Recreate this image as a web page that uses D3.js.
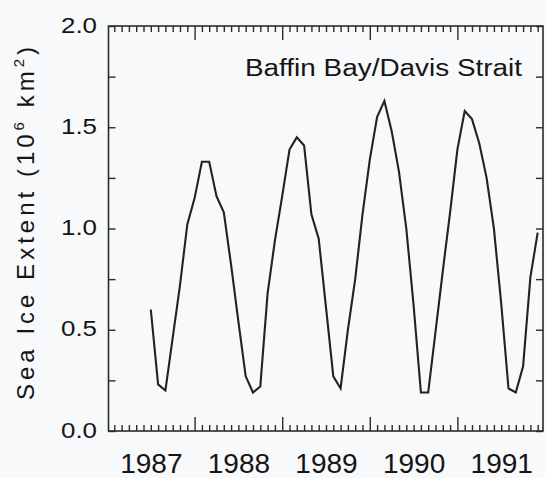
<!DOCTYPE html>
<html>
<head>
<meta charset="utf-8">
<script src="https://cdn.jsdelivr.net/npm/d3@7"></script>
<style>
  html, body { margin: 0; padding: 0; background: #f7f9fb; }
  svg { display: block; }
  text { font-family: "Liberation Sans", Arial, Helvetica, sans-serif; fill: #151515; }
</style>
</head>
<body>
<script>
// Monthly sea ice extent, 10^6 km^2
const extent1987 = [0.60, 0.23, 0.20, 0.46, 0.72, 1.02]; // Jul - Dec
const extent1988 = [1.15, 1.33, 1.33, 1.16, 1.08, 0.82, 0.54, 0.27, 0.19, 0.22, 0.68, 0.94];
const extent1989 = [1.16, 1.39, 1.45, 1.41, 1.07, 0.95, 0.61, 0.27, 0.21, 0.50, 0.75, 1.07];
const extent1990 = [1.34, 1.55, 1.63, 1.48, 1.28, 1.00, 0.62, 0.19, 0.19, 0.49, 0.79, 1.08];
const extent1991 = [1.39, 1.58, 1.54, 1.42, 1.25, 1.00, 0.63, 0.21, 0.19, 0.32, 0.76, 0.98];
const years = [1987, 1988, 1989, 1990, 1991];
const firstMonth1987 = 6; // July (0-based)
const yTickLabels = ['0.0', '0.5', '1.0', '1.5', '2.0'];
const title = 'Baffin Bay/Davis Strait';

const w = 545;
const h = 478;
const frame = { left: 108.5, right: 543, top: 26, bottom: 431 };

// build dataset: [decimal year, value]
const byYear = [extent1987, extent1988, extent1989, extent1990, extent1991];
const dataset = [];
byYear.forEach((vals, i) => {
  const offset = i === 0 ? firstMonth1987 : 0;
  vals.forEach((v, j) => dataset.push([years[i] + (offset + j) / 12, v]));
});

const xScale = d3.scaleLinear().domain([1987, 1992]).range([107, 545]);
const yScale = d3.scaleLinear().domain([0, 2]).range([frame.bottom, frame.top]);

const svg = d3.select('body').append('svg').attr('width', w).attr('height', h);

svg.append('rect')
  .attr('width', w).attr('height', h).attr('fill', '#f7f9fb');

// month and year tick positions inside the frame
const monthTicks = d3.range(1, 60).map(k => 1987 + k / 12).filter(t => Math.abs(t - Math.round(t)) > 1e-6);
const yearTicks = years.slice(1);
const yTicks = d3.range(0, 2.001, 0.25);

function styleAxis(g) {
  g.select('.domain').remove();
  g.selectAll('line').attr('stroke', '#2b2b2b').attr('stroke-width', 1.4);
}

// bottom axis
svg.append('g').attr('transform', 'translate(0,' + frame.bottom + ')')
  .call(d3.axisBottom(xScale).tickValues(monthTicks).tickSize(-6).tickFormat(''))
  .call(styleAxis);
svg.append('g').attr('transform', 'translate(0,' + frame.bottom + ')')
  .call(d3.axisBottom(xScale).tickValues(yearTicks).tickSize(-14).tickFormat(''))
  .call(styleAxis);
const xLabels = svg.append('g').attr('transform', 'translate(0,' + frame.bottom + ')')
  .call(d3.axisBottom(xScale).tickValues(years.map(y => y + 0.5)).tickSize(0)
    .tickFormat((d, i) => String(years[i])))
  .call(styleAxis);
xLabels.selectAll('text')
  .attr('y', 42).attr('dy', 0)
  .style('font-size', '28px').attr('fill', '#151515');

// top axis
svg.append('g').attr('transform', 'translate(0,' + frame.top + ')')
  .call(d3.axisTop(xScale).tickValues(monthTicks).tickSize(-6).tickFormat(''))
  .call(styleAxis);
svg.append('g').attr('transform', 'translate(0,' + frame.top + ')')
  .call(d3.axisTop(xScale).tickValues(yearTicks).tickSize(-14).tickFormat(''))
  .call(styleAxis);

// left axis
const yAxisG = svg.append('g').attr('transform', 'translate(' + frame.left + ',0)')
  .call(d3.axisLeft(yScale).tickValues(yTicks).tickSize(-7)
    .tickFormat(d => (Math.abs(d * 2 - Math.round(d * 2)) < 1e-6 ? yTickLabels[Math.round(d * 2)] : '')))
  .call(styleAxis);
yAxisG.selectAll('text')
  .attr('x', -11.5).attr('dy', '0.28em')
  .style('font-size', '22px').attr('fill', '#151515')
  .filter(function() { return this.textContent !== ''; })
  .attr('textLength', 36).attr('lengthAdjust', 'spacingAndGlyphs');

// right axis
svg.append('g').attr('transform', 'translate(' + frame.right + ',0)')
  .call(d3.axisRight(yScale).tickValues(yTicks).tickSize(-7).tickFormat(''))
  .call(styleAxis);

// frame
svg.append('rect')
  .attr('x', frame.left).attr('y', frame.top)
  .attr('width', frame.right - frame.left).attr('height', frame.bottom - frame.top)
  .attr('fill', 'none').attr('stroke', '#2b2b2b').attr('stroke-width', 1.6);

// data line
const line = d3.line().x(d => xScale(d[0])).y(d => yScale(d[1]));
svg.append('path')
  .datum(dataset)
  .attr('d', line)
  .attr('fill', 'none')
  .attr('stroke', '#222')
  .attr('stroke-width', 2.1)
  .attr('stroke-linejoin', 'miter');

// title
svg.append('text')
  .attr('x', 245).attr('y', 76)
  .attr('textLength', 277).attr('lengthAdjust', 'spacingAndGlyphs')
  .style('font-size', '23px')
  .text(title);

// y axis label
const yLabel = svg.append('text')
  .attr('transform', 'translate(34,400) rotate(-90)')
  .attr('textLength', 353).attr('lengthAdjust', 'spacing')
  .style('font-size', '24px');
yLabel.append('tspan').text('Sea Ice Extent (10');
yLabel.append('tspan').attr('dy', -10).style('font-size', '15px').text('6');
yLabel.append('tspan').attr('dy', 10).text(' km');
yLabel.append('tspan').attr('dy', -10).style('font-size', '15px').text('2');
yLabel.append('tspan').attr('dy', 10).text(')');
</script>
</body>
</html>
